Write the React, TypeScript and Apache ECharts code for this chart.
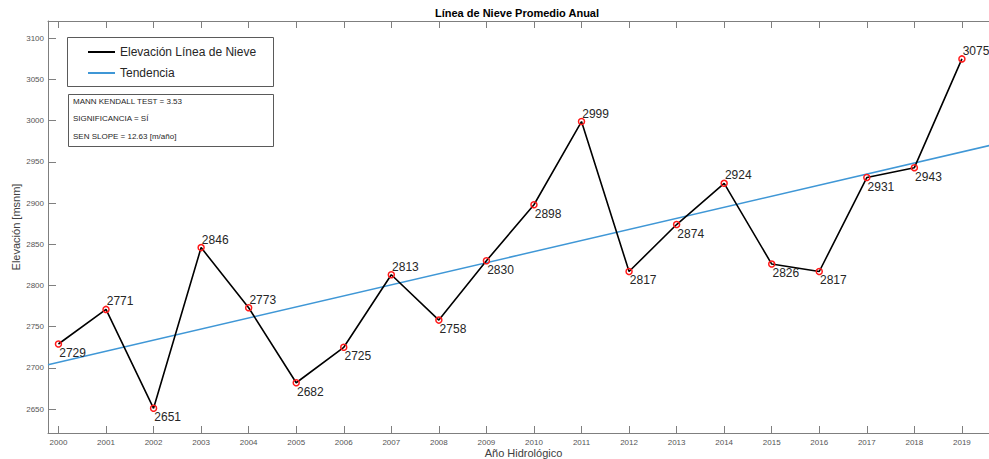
import React, { useEffect, useRef } from "react";
import * as echarts from "echarts";

const years = [2000, 2001, 2002, 2003, 2004, 2005, 2006, 2007, 2008, 2009, 2010, 2011, 2012, 2013, 2014, 2015, 2016, 2017, 2018, 2019];
const elevation = [2729, 2771, 2651, 2846, 2773, 2682, 2725, 2813, 2758, 2830, 2898, 2999, 2817, 2874, 2924, 2826, 2817, 2931, 2943, 3075];
const trendX = [1999.78, 2019.78];
const trendY = [2703.8, 2972.6];
const yTicks = [2650, 2700, 2750, 2800, 2850, 2900, 2950, 3000, 3050, 3100];
const labelAboveYears = [2001, 2003, 2004, 2007, 2011, 2014, 2019];
const statsLines = ["MANN KENDALL TEST = 3.53", "SIGNIFICANCIA = SÍ", "SEN SLOPE = 12.63 [m/año]"];

const FONT = "Liberation Sans, Arial, sans-serif";

export default function App() {
  const ref = useRef<HTMLDivElement>(null);
  useEffect(() => {
    if (!ref.current) return;
    const chart = echarts.init(ref.current, null, { renderer: "svg" });
    const axisColor = "#7f7f7f";
    const mainData = years.map((y, i) => {
      const above = labelAboveYears.includes(y);
      return {
        value: [y, elevation[i]],
        label: {
          show: true,
          position: "right",
          distance: 0,
          offset: above ? [-3, -8] : [-3, 9],
          formatter: String(elevation[i]),
          fontSize: 12,
          fontFamily: FONT,
          color: "#262626",
        },
      };
    });
    const option: any = {
      animation: false,
      backgroundColor: "#ffffff",
      title: {
        text: "Línea de Nieve Promedio Anual",
        left: 435,
        top: 7,
        padding: 0,
        textStyle: { fontSize: 11, fontWeight: "bold", fontFamily: FONT, color: "#000" },
      },
      grid: { left: 48, top: 21, right: -10, bottom: 26, containLabel: false, outerBoundsMode: "none" },
      legend: {
        orient: "vertical",
        left: 88,
        top: 46,
        padding: 0,
        itemWidth: 27,
        itemHeight: 2,
        itemGap: 9,
        itemTextGap: 1,
        icon: "rect",
        textStyle: { fontSize: 12, fontFamily: FONT, color: "#262626" },
        data: [
          { name: "Elevación Línea de Nieve", itemStyle: { color: "#000000", borderWidth: 0 } },
          { name: "Tendencia", itemStyle: { color: "#3f97d6", borderWidth: 0 } },
        ],
      },
      graphic: [
        { type: "rect", z: 1, shape: { x: 67.5, y: 37.5, width: 206, height: 49 }, style: { fill: "#fff", stroke: "#5a5a5a", lineWidth: 1 } },
        { type: "rect", z: 1, shape: { x: 68.5, y: 94.5, width: 205, height: 52 }, style: { fill: "#fff", stroke: "#5a5a5a", lineWidth: 1 } },
        ...statsLines.map((t, i) => ({
          type: "text",
          z: 2,
          x: 73,
          y: [101, 118.5, 136][i],
          style: { text: t, fontSize: 8, fontFamily: FONT, fill: "#262626", verticalAlign: "middle", align: "left" },
        })),
      ],
      xAxis: [
        {
          type: "value",
          min: trendX[0],
          max: trendX[1],
          position: "bottom",
          name: "Año Hidrológico",
          nameLocation: "middle",
          nameGap: 14,
          nameMoveOverlap: false,
          nameTextStyle: { fontSize: 11, fontFamily: FONT, color: "#404040" },
          axisLine: { show: true, lineStyle: { color: axisColor, width: 1 } },
          axisTick: { show: true, inside: true, length: 7, lineStyle: { color: axisColor }, customValues: years },
          axisLabel: { show: true, customValues: years, fontSize: 8, fontFamily: FONT, color: "#555", margin: 5, formatter: (v: number) => String(Math.round(v)) },
          splitLine: { show: false },
        },
        {
          type: "value",
          min: trendX[0],
          max: trendX[1],
          position: "top",
          axisLine: { show: true, lineStyle: { color: axisColor, width: 1 } },
          axisTick: { show: true, inside: true, length: 7, lineStyle: { color: axisColor }, customValues: years },
          axisLabel: { show: false },
          splitLine: { show: false },
        },
      ],
      yAxis: {
        type: "value",
        min: 2621,
        max: 3121,
        name: "Elevación [msnm]",
        nameLocation: "middle",
        nameGap: 27,
        nameMoveOverlap: false,
        nameRotate: 90,
        nameTextStyle: { fontSize: 11, fontFamily: FONT, color: "#404040" },
        axisLine: { show: true, lineStyle: { color: axisColor, width: 1 } },
        axisTick: { show: true, inside: true, length: 8, lineStyle: { color: axisColor }, customValues: yTicks },
        axisLabel: { show: true, customValues: yTicks, fontSize: 8, fontFamily: FONT, color: "#555", margin: 4, formatter: (v: number) => String(Math.round(v)) },
        splitLine: { show: false },
      },
      series: [
        {
          name: "Tendencia",
          type: "line",
          xAxisIndex: 0,
          data: trendX.map((x, i) => [x, trendY[i]]),
          symbol: "none",
          lineStyle: { color: "#3f97d6", width: 1.5 },
          itemStyle: { color: "#3f97d6" },
          z: 2,
        },
        {
          name: "Elevación Línea de Nieve",
          type: "line",
          xAxisIndex: 0,
          data: mainData,
          symbol: "circle",
          symbolSize: 6,
          showAllSymbol: true,
          lineStyle: { color: "#000000", width: 1.6 },
          itemStyle: { color: "rgba(255,255,255,0)", borderColor: "#ff1a1a", borderWidth: 1.5 },
          z: 3,
        },
      ],
    };
    chart.setOption(option);
    return () => chart.dispose();
  }, []);
  return <div ref={ref} style={{ width: 989, height: 459, position: "absolute", left: 0, top: 0 }} />;
}
